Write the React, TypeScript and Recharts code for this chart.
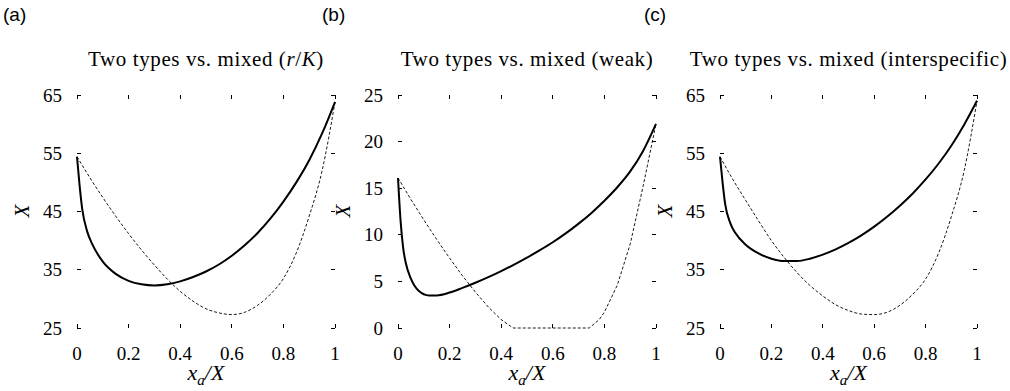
import React from 'react';
import { LineChart, Line, XAxis, YAxis } from 'recharts';

const SERIF = '"Liberation Serif", "DejaVu Serif", serif';

const xTicks = [0, 0.2, 0.4, 0.6, 0.8, 1];
const yTicksAC = [25, 35, 45, 55, 65];
const yTicksB = [0, 5, 10, 15, 20, 25];

// (a) two types vs. mixed (r/K)
const aSolidX = [0, 0.01, 0.02, 0.04, 0.06, 0.1, 0.15, 0.2, 0.25, 0.3, 0.35, 0.4, 0.45, 0.5, 0.55, 0.6, 0.65, 0.7, 0.75, 0.8, 0.85, 0.9, 0.95, 1];
const aSolidY = [54.4, 49.5, 45.5, 41.5, 39.3, 36.4, 34.3, 33.1, 32.5, 32.3, 32.5, 33.0, 33.75, 34.7, 35.9, 37.4, 39.2, 41.3, 43.8, 46.7, 50.0, 53.8, 58.4, 63.8];
const aDashX = [0, 0.05, 0.1, 0.15, 0.2, 0.25, 0.3, 0.35, 0.4, 0.45, 0.5, 0.55, 0.6, 0.65, 0.7, 0.75, 0.8, 0.85, 0.9, 0.95, 1];
const aDashY = [54.4, 50.8, 47.4, 44.2, 41.2, 38.4, 35.8, 33.4, 31.3, 29.6, 28.3, 27.6, 27.3, 27.7, 28.9, 30.8, 33.5, 37.9, 44.2, 52.0, 63.8];

// (b) two types vs. mixed (weak)
const bSolidX = [0, 0.01, 0.02, 0.03, 0.05, 0.08, 0.12, 0.15, 0.2, 0.25, 0.3, 0.35, 0.4, 0.45, 0.5, 0.55, 0.6, 0.65, 0.7, 0.75, 0.8, 0.85, 0.9, 0.95, 1];
const bSolidY = [16.1, 11.5, 8.6, 7.0, 5.3, 4.0, 3.5, 3.5, 3.8, 4.3, 4.85, 5.45, 6.1, 6.8, 7.55, 8.35, 9.2, 10.15, 11.2, 12.35, 13.65, 15.1, 16.8, 19.0, 21.9];
const bDashX = [0, 0.05, 0.1, 0.15, 0.2, 0.25, 0.3, 0.35, 0.4, 0.446, 0.741, 0.78, 0.8, 0.85, 0.9, 0.95, 1];
const bDashY = [16.1, 13.8, 11.6, 9.5, 7.5, 5.6, 3.85, 2.25, 0.9, 0, 0, 0.9, 1.7, 4.6, 9.0, 15.2, 21.9];

// (c) two types vs. mixed (interspecific)
const cSolidX = [0, 0.01, 0.02, 0.04, 0.06, 0.1, 0.15, 0.2, 0.25, 0.3, 0.35, 0.4, 0.45, 0.5, 0.55, 0.6, 0.65, 0.7, 0.75, 0.8, 0.85, 0.9, 0.95, 1];
const cSolidY = [54.4, 50.0, 46.3, 43.0, 41.3, 39.3, 37.8, 36.9, 36.5, 36.5, 36.9, 37.6, 38.5, 39.6, 40.9, 42.4, 44.1, 46.0, 48.1, 50.5, 53.2, 56.3, 59.9, 64.0];
const cDashX = [0, 0.05, 0.1, 0.15, 0.2, 0.25, 0.3, 0.35, 0.4, 0.45, 0.5, 0.55, 0.6, 0.65, 0.7, 0.75, 0.8, 0.85, 0.9, 0.95, 1];
const cDashY = [54.4, 50.5, 46.9, 43.4, 40.0, 37.1, 34.5, 32.3, 30.5, 29.0, 28.0, 27.4, 27.3, 27.7, 28.9, 30.8, 33.4, 37.8, 44.1, 52.0, 64.0];

const zip = (xs: number[], ys: number[]) => xs.map((x, i) => ({ x, y: ys[i] }));

const TICK = 4;
const Y_W = 70;
const R_W = 10;
const PLOT_TOP = 95;
const PLOT_BOTTOM = 328;
const H = 391;

interface PanelProps {
  tag: string;
  tagLeft: number;
  title: React.ReactNode;
  plotLeft: number;
  plotW: number;
  yDomain: [number, number];
  yTicks: number[];
  solid: { x: number; y: number }[];
  dashed: { x: number; y: number }[];
  dashedType: 'monotone' | 'linear';
}

function Panel({ tag, tagLeft, title, plotLeft, plotW, yDomain, yTicks, solid, dashed, dashedType }: PanelProps) {
  const left = plotLeft - Y_W;
  const width = Y_W + plotW + R_W;
  const center = Y_W + plotW / 2;
  const plotRight = Y_W + plotW;

  // ticks point inwards on all four sides; left/bottom ones carry the labels
  const yTick = ({ y, payload }: any) => (
    <g>
      <line x1={Y_W} x2={Y_W + TICK} y1={y} y2={y} stroke="#000" strokeWidth={1} shapeRendering="crispEdges" />
      <line x1={plotRight - TICK} x2={plotRight} y1={y} y2={y} stroke="#000" strokeWidth={1} shapeRendering="crispEdges" />
      <text x={Y_W - 15} y={y} dy={6.5} textAnchor="end" fontFamily={SERIF} style={{ fontFamily: SERIF, fontSize: 19 }} fill="#000">
        {payload.value}
      </text>
    </g>
  );
  const xTick = ({ x, payload }: any) => (
    <g>
      <line x1={x} x2={x} y1={PLOT_BOTTOM - TICK} y2={PLOT_BOTTOM} stroke="#000" strokeWidth={1} shapeRendering="crispEdges" />
      <line x1={x} x2={x} y1={PLOT_TOP} y2={PLOT_TOP + TICK} stroke="#000" strokeWidth={1} shapeRendering="crispEdges" />
      <text x={x} y={PLOT_BOTTOM + 32} textAnchor="middle" fontFamily={SERIF} style={{ fontFamily: SERIF, fontSize: 19 }} fill="#000">
        {payload.value}
      </text>
    </g>
  );

  return (
    <>
      <div style={{ position: 'absolute', left: tagLeft, top: 4, fontFamily: '"Liberation Sans", Arial, sans-serif', fontSize: 19 }}>
        {tag}
      </div>
      <div style={{ position: 'absolute', left, top: 0, width, height: H }}>
        <div style={{ position: 'absolute', left: center - 200, width: 400, top: 47, textAlign: 'center', fontFamily: SERIF,
          fontSize: 21, letterSpacing: 0.6, whiteSpace: 'nowrap' }}>
          {title}
        </div>
        <LineChart width={width} height={H} margin={{ top: PLOT_TOP, right: R_W, bottom: 0, left: 0 }}>
          <XAxis dataKey="x" type="number" domain={[0, 1]} ticks={xTicks} axisLine={false} tickLine={false}
            tickSize={0} tickMargin={0} height={H - PLOT_BOTTOM} tick={xTick} interval={0} />
          <YAxis dataKey="y" type="number" domain={yDomain} ticks={yTicks} axisLine={false} tickLine={false}
            tickSize={0} tickMargin={0} width={Y_W} tick={yTick} interval={0} />
          <Line data={dashed} dataKey="y" type={dashedType} stroke="#000" strokeWidth={0.9}
            strokeDasharray="3 2" dot={false} isAnimationActive={false} />
          <Line data={solid} dataKey="y" type="monotone" stroke="#000" strokeWidth={2}
            dot={false} isAnimationActive={false} />
        </LineChart>
        <div style={{ position: 'absolute', left: center - 50, width: 100, top: 360, textAlign: 'center', fontFamily: SERIF, fontSize: 22, fontStyle: 'italic' }}>
          x<sub style={{ fontSize: 15 }}>a</sub>/X
        </div>
        <div style={{ position: 'absolute', left: Y_W - 55 - 10, width: 20, top: 201, height: 20, textAlign: 'center', lineHeight: '20px',
          fontFamily: SERIF, fontSize: 21, fontStyle: 'italic', transform: 'rotate(-90deg)' }}>
          X
        </div>
      </div>
    </>
  );
}

export default function App() {
  return (
    <div style={{ position: 'absolute', left: 0, top: 0, width: 1010, height: 391, background: '#fff', overflow: 'hidden' }}>
      <Panel tag="(a)" tagLeft={3} title={<>Two types vs. mixed (<i>r</i>/<i>K</i>)</>} plotLeft={77} plotW={258}
        yDomain={[25, 65]} yTicks={yTicksAC} solid={zip(aSolidX, aSolidY)} dashed={zip(aDashX, aDashY)} dashedType="monotone" />
      <Panel tag="(b)" tagLeft={322} title="Two types vs. mixed (weak)" plotLeft={398} plotW={258}
        yDomain={[0, 25]} yTicks={yTicksB} solid={zip(bSolidX, bSolidY)} dashed={zip(bDashX, bDashY)} dashedType="linear" />
      <Panel tag="(c)" tagLeft={644} title="Two types vs. mixed (interspecific)" plotLeft={720} plotW={257}
        yDomain={[25, 65]} yTicks={yTicksAC} solid={zip(cSolidX, cSolidY)} dashed={zip(cDashX, cDashY)} dashedType="monotone" />
    </div>
  );
}
